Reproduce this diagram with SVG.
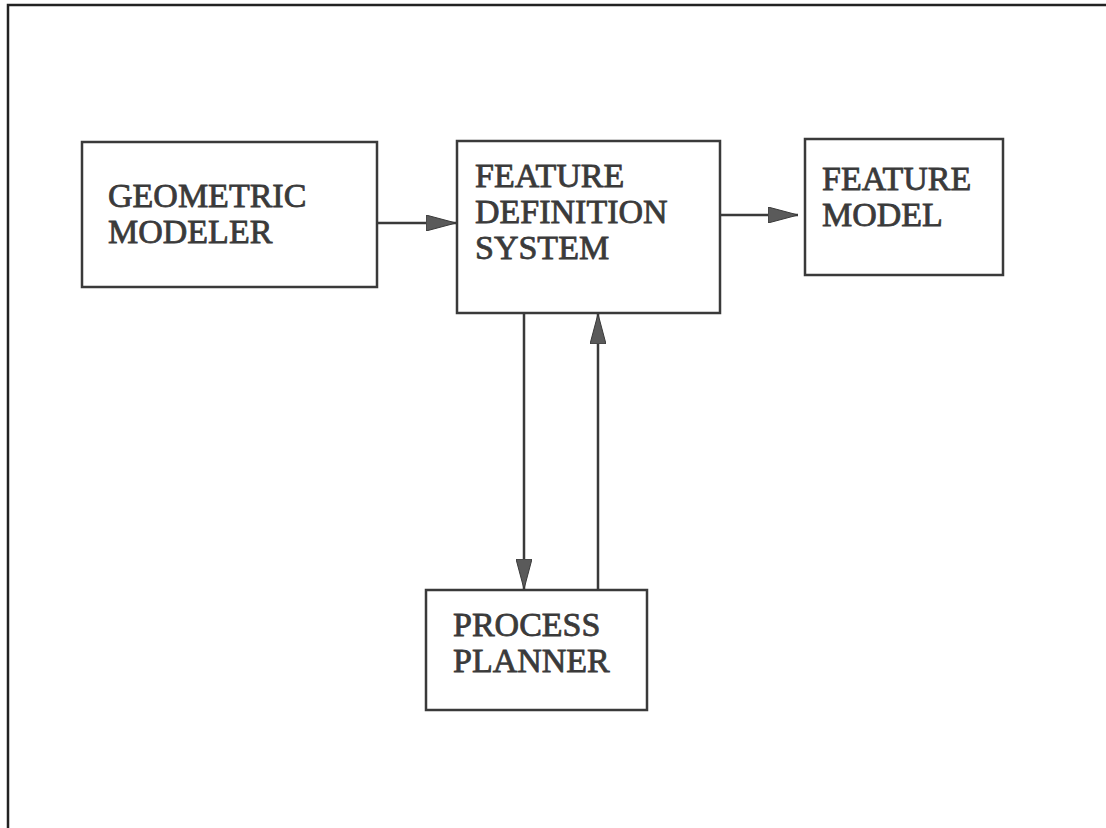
<svg xmlns="http://www.w3.org/2000/svg" width="1106" height="828" viewBox="0 0 1106 828">
<style>
.box{fill:none;stroke:#3a3a3a;stroke-width:2.5}
.lbl{font-family:"Liberation Serif","Times New Roman",serif;font-weight:normal;font-size:34px;fill:#3a3a3a;stroke:#3a3a3a;stroke-width:0.8}
.con{stroke:#3a3a3a;stroke-width:2.5;fill:none}
.frame{stroke:#222;stroke-width:2.5;fill:none}
</style>
<defs>
<marker id="ah" viewBox="0 0 30 16" refX="30" refY="8" markerWidth="30" markerHeight="16" markerUnits="userSpaceOnUse" orient="auto">
<path d="M0,0 L30,8 L0,16 Z" fill="#5a5a5a" stroke="#3a3a3a" stroke-width="1"/>
</marker>
</defs>
<path class="frame" d="M8,828 L8,5 L1106,5"/>
<g id="geometric-modeler">
<rect class="box" x="82" y="142" width="295" height="145"/>
<text class="lbl" x="108" y="207">GEOMETRIC</text>
<text class="lbl" x="108" y="243">MODELER</text>
</g>
<g id="feature-definition-system">
<rect class="box" x="457" y="141" width="263" height="172"/>
<text class="lbl" x="475" y="187">FEATURE</text>
<text class="lbl" x="475" y="223">DEFINITION</text>
<text class="lbl" x="475" y="259">SYSTEM</text>
</g>
<g id="feature-model">
<rect class="box" x="805" y="139" width="198" height="136"/>
<text class="lbl" x="822" y="190">FEATURE</text>
<text class="lbl" x="822" y="226">MODEL</text>
</g>
<g id="process-planner">
<rect class="box" x="426" y="590" width="221" height="120"/>
<text class="lbl" x="453" y="636">PROCESS</text>
<text class="lbl" x="453" y="672">PLANNER</text>
</g>
<g id="connectors">
<line class="con" x1="377" y1="223" x2="456" y2="223" marker-end="url(#ah)"/>
<line class="con" x1="720" y1="215" x2="798" y2="215" marker-end="url(#ah)"/>
<line class="con" x1="524" y1="313" x2="524" y2="589" marker-end="url(#ah)"/>
<line class="con" x1="598" y1="590" x2="598" y2="314" marker-end="url(#ah)"/>
</g>
</svg>
